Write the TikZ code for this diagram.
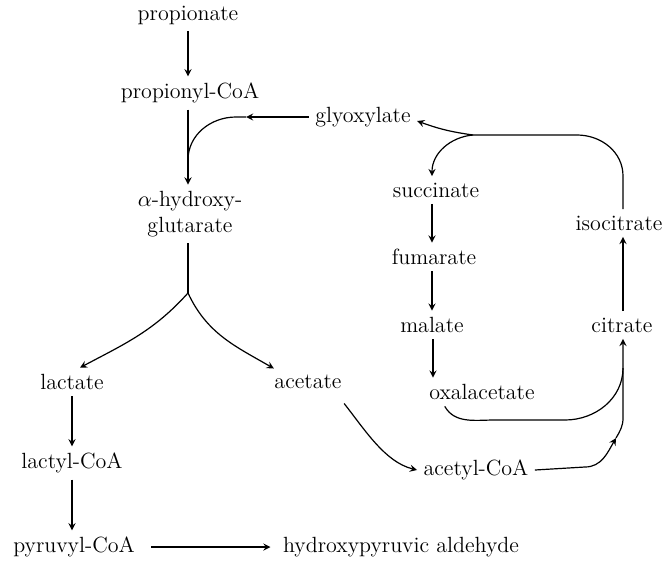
\documentclass[tikz,border=0pt]{standalone}
\usepackage{tikz}

\begin{document}
\begin{tikzpicture}[x=0.5pt,y=-0.5pt,>=stealth,semithick,
    met/.style={font=\fontsize{11}{13}\selectfont,inner sep=3pt}]
  \useasboundingbox (0,0) rectangle (663,562);
  % left branch
  \node[met] (prop) at (188,15) {propionate};
  \node[met] (propcoa) at (190,93) {propionyl-CoA};
  \node[met,align=center] (hg) at (190,214) {$\alpha$-hydroxy-\\glutarate};
  \node[met] (glyox) at (363,117) {glyoxylate};
  \node[met] (lact) at (72,382) {lactate};
  \node[met] (acet) at (308,382) {acetate};
  \node[met] (lactcoa) at (72,463) {lactyl-CoA};
  \node[met] (pyrcoa) at (74,547) {pyruvyl-CoA};
  \node[met] (hpa) at (401,547) {hydroxypyruvic aldehyde};
  % cycle
  \node[met] (succ) at (436,190) {succinate};
  \node[met] (fum) at (434,257) {fumarate};
  \node[met] (mal) at (432,325) {malate};
  \node[met] (oaa) at (482,392) {oxalacetate};
  \node[met] (cit) at (622,325) {citrate};
  \node[met] (isocit) at (619,223) {isocitrate};
  \node[met] (acetcoa) at (476,470) {acetyl-CoA};
  \coordinate (gm) at (188,160);
  \coordinate (ga) at (246,117);
  \coordinate (fork) at (188,293);
  \coordinate (jt) at (473,135);
  \coordinate (cb) at (623,368);
  \coordinate (ah) at (616,438);

  \draw[->] (prop) -- (prop |- propcoa.north);
  \draw[->] (propcoa.south -| gm) -- (hg.north -| gm);
  \draw[->] (glyox) -- (ga);
  \draw (ga) -- (236,117) to[out=180,in=90] (gm);
  \draw (hg.south -| fork) -- (fork);
  \draw[->] (fork) to[out=-132,in=28] ([xshift=4pt]lact.north);
  \draw[->] (fork) to[out=-65,in=150] ([xshift=3pt]acet.north west);
  \draw[->] (lact) -- (lactcoa);
  \draw[->] (lactcoa) -- (lactcoa |- pyrcoa.north);
  \draw[->,shorten <=5pt,shorten >=3pt] (pyrcoa) -- (hpa);

  \draw (isocit.north -| cb) -- (623,176) to[out=90,in=0] (577,135) -- (jt);
  \draw[->] (jt) to[out=172,in=-20] ([yshift=-2pt]glyox.east);
  \draw[->] (jt) to[out=185,in=90] (succ.north -| 432,0);
  \draw[->] (succ.south -| 432,0) -- (fum.north -| 432,0);
  \draw[->] (fum.south -| 432,0) -- (mal.north -| 432,0);
  \draw[->] (mal.south -| 433,0) -- (oaa.north -| 433,0);
  \draw[->] (cit.north -| cb) -- (isocit.south -| cb);
  \draw[->] ([xshift=11pt]oaa.south west) to[out=-60,in=180] (495,420)
    -- (565,420) to[out=0,in=-90] (cb) -- (cit.south -| cb);
  \draw[->] ([xshift=-2pt,yshift=-4pt]acet.south east) .. controls (365,430) and (385,462) .. (acetcoa.west);
  \draw[->] (acetcoa.east) -- (585,467) to[out=0,in=-120] (ah);
  \draw (ah) to[out=60,in=-90] (cb |- 0,418) -- (cb);
\end{tikzpicture}
\end{document}
